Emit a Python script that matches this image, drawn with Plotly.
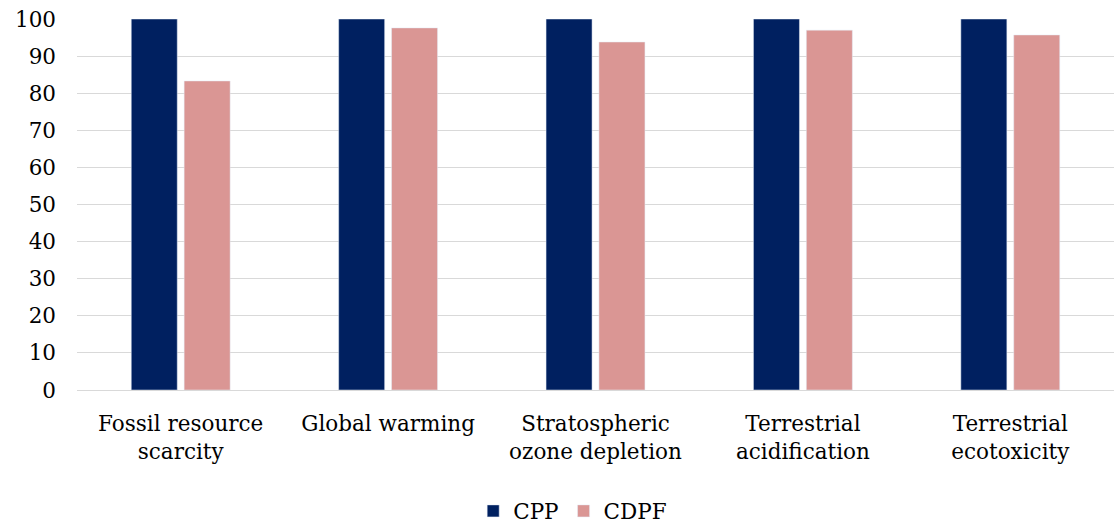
import plotly.graph_objects as go

categories = ["Fossil resource<br>scarcity", "Global warming", "Stratospheric<br>ozone depletion",
              "Terrestrial<br>acidification", "Terrestrial<br>ecotoxicity"]
cpp = [100, 100, 100, 100, 100]
cdpf = [83.3, 97.6, 93.8, 97.0, 95.7]

FONT = "DejaVu Serif"

fig = go.Figure()
fig.add_trace(go.Bar(x=categories, y=cpp, name="CPP", marker_color="#002060"))
fig.add_trace(go.Bar(x=categories, y=cdpf, name="CDPF", marker_color="#DA9694"))

fig.update_layout(
    width=1114, height=524,
    margin=dict(l=77, r=0, t=19, b=134, autoexpand=False),
    plot_bgcolor="white", paper_bgcolor="white",
    barmode="group", bargap=0.49, bargroupgap=0.13,
    font=dict(family=FONT, size=21.5, color="#000000"),
    legend=dict(orientation="h", x=0.478, xanchor="center", yref="container", y=0.025,
                yanchor="middle", font=dict(size=21.5), itemwidth=30),
    showlegend=True,
)
fig.update_yaxes(range=[0, 100], dtick=10, showgrid=True, gridcolor="#d9d9d9", gridwidth=1.3,
                 zeroline=False, ticks="", ticklen=0, tickfont=dict(size=21.5), showline=False,
                 automargin=False, ticklabelstandoff=20)
fig.update_xaxes(showline=True, linecolor="#d9d9d9", linewidth=1.3, ticks="",
                 tickfont=dict(size=21.5), automargin=False, ticklabelstandoff=14)

fig.write_html("out.html", config={"displayModeBar": False},
               post_script="document.body.style.margin='0';")
